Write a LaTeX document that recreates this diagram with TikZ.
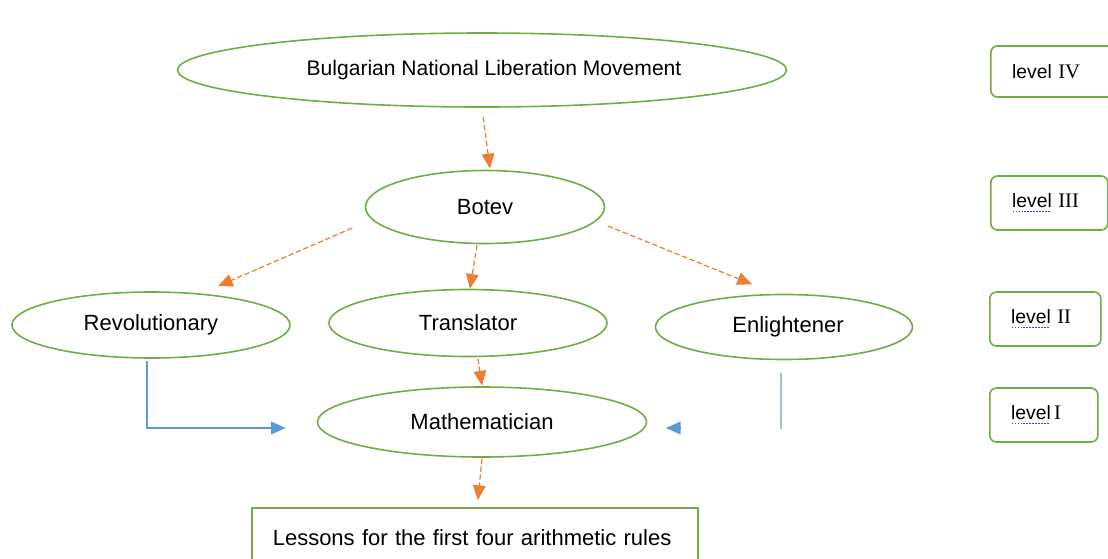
\documentclass[tikz,border=0pt]{standalone}
\usepackage{fontspec}
\setmainfont{Liberation Sans}
\newfontfamily\romfont{Liberation Serif}
\usetikzlibrary{shapes.geometric,arrows.meta}
\definecolor{ggreen}{HTML}{70AD47}
\definecolor{oorange}{HTML}{ED7D31}
\definecolor{bblue}{HTML}{5B9BD5}
\definecolor{lblue}{HTML}{9DC3E6}
\definecolor{spellblue}{HTML}{3A3AE8}
\newcommand\spellmark[1]{\setbox0\hbox{#1}\leavevmode\rlap{\raisebox{-3.2pt}{\color{spellblue}\leaders\hbox to 2.2pt{\hss\rule{1.3pt}{0.7pt}\hss}\hskip\wd0}}\box0\relax}
\newcommand\rn[1]{{\romfont\fontsize{15.5pt}{16pt}\selectfont #1}}
\tikzset{
  oval/.style={ellipse, draw=ggreen, line width=1.2pt, inner sep=0pt, font=\fontsize{16.5pt}{19pt}\selectfont},
  lvl/.style={rectangle, rounded corners=5pt, draw=ggreen, line width=1.2pt, anchor=west, inner xsep=16pt, align=left, font=\fontsize{14.5pt}{17pt}\selectfont},
  oarrow/.style={draw=oorange, line width=0.9pt, dash pattern=on 4pt off 2pt, -{Triangle[length=11pt,width=9.5pt]}},
  barrow/.style={draw=bblue, line width=1pt, -{Triangle[length=11pt,width=9.5pt]}}
}
\begin{document}
\begin{tikzpicture}[x=0.75pt,y=-0.75pt]
\useasboundingbox (0,0) rectangle (1108,558);
\clip (0,0) rectangle (1108,558);
% ovals
\node[oval, minimum width=456.75pt, minimum height=55.5pt, font=\fontsize{15.8pt}{19pt}\selectfont] (top) at (482,70) {\hspace*{18pt}Bulgarian National Liberation Movement};
\node[oval, minimum width=179.25pt, minimum height=54.75pt] (botev) at (485,207) {Botev};
\node[oval, minimum width=208.5pt, minimum height=49.5pt] (rev) at (151,325) {Revolutionary};
\node[oval, minimum width=208.5pt, minimum height=50.25pt] (trans) at (468,323) {Translator};
\node[oval, minimum width=192.75pt, minimum height=48.75pt] (enl) at (784,327) {\hspace*{6pt}Enlightener};
\node[oval, minimum width=246.75pt, minimum height=52.5pt] (math) at (482,422) {Mathematician};
% lessons box
\node[rectangle, draw=ggreen, line width=1.2pt, anchor=north west, inner xsep=15.75pt, text width=303pt, minimum height=45pt, align=left, font=\fontsize{16.5pt}{19pt}\selectfont] (less) at (251,507) {Lessons for the first four arithmetic rules};
% level boxes
\node[lvl, text width=65pt, minimum height=38.25pt] (l4) at (990,71.5) {level \rn{IV}};
\node[lvl, text width=55.75pt, minimum height=40.5pt] (l3) at (990,203) {\spellmark{level} \rn{III}};
\node[lvl, text width=51.25pt, minimum height=40.5pt] (l2) at (989,319) {\spellmark{level} \rn{II}};
\node[lvl, text width=49pt, minimum height=40.5pt] (l1) at (989,415) {\spellmark{level}\,\rn{I}};
% orange connectors
\draw[oarrow, shorten <=7pt] (top.south) -- ([xshift=3.75pt,yshift=1pt]botev.north);
\draw[oarrow] ([xshift=-9.4pt,yshift=-15.75pt]botev.west) -- ([xshift=50.25pt,yshift=3.75pt]rev.north);
\draw[oarrow] ([xshift=-6pt,yshift=-0.5pt]botev.south) -- ([xshift=1.5pt]trans.north);
\draw[oarrow] ([xshift=1.9pt,yshift=-14.25pt]botev.east) -- ([xshift=-24pt,yshift=7.1pt]enl.north);
\draw[oarrow] ([xshift=7.5pt,yshift=-1pt]trans.south) -- ([yshift=0.5pt]math.north);
\draw[oarrow] ([yshift=-0.5pt]math.south) -- ([xshift=2.25pt,yshift=5.25pt]less.north);
% blue connectors
\draw[barrow] ([xshift=-3pt,yshift=-1.5pt]rev.south) |- ([xshift=-23.25pt,yshift=-4.5pt]math.west);
\draw[draw=lblue, line width=0.8pt] ([xshift=-2.25pt,yshift=-9.4pt]enl.south) -- ++(0,56);
\draw[barrow] ([xshift=25pt,yshift=-4.5pt]math.east) -- ([xshift=13.9pt,yshift=-4.5pt]math.east);
\end{tikzpicture}
\end{document}
